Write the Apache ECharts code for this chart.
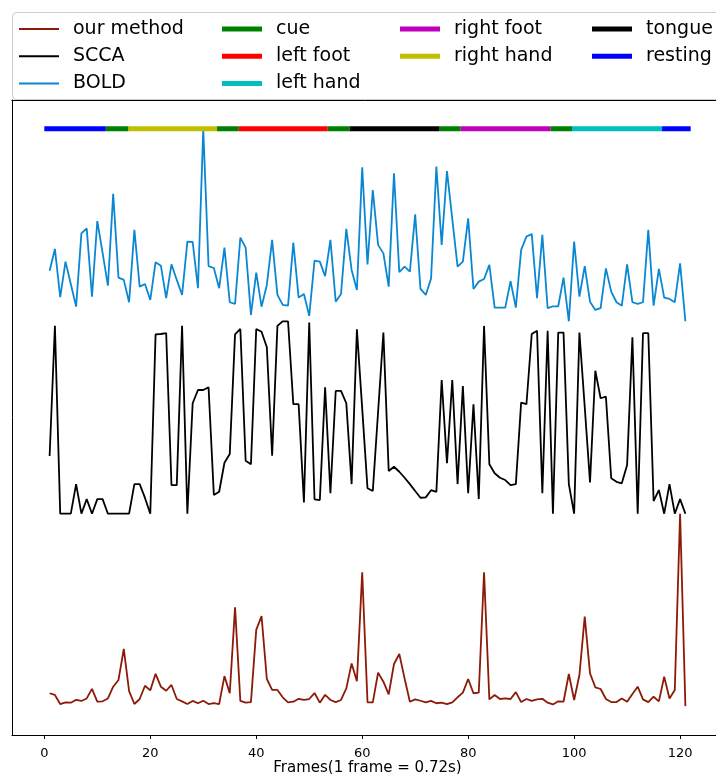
<!DOCTYPE html>
<html>
<head>
<meta charset="utf-8">
<script src="https://cdn.jsdelivr.net/npm/echarts@6/dist/echarts.min.js"></script>
<style>
  html, body { margin: 0; padding: 0; background: #fff; }
  #chart { width: 716px; height: 774px; }
</style>
</head>
<body>
<div id="chart"></div>
<script>
// traces, each normalised to 0..1 (frames 1..121)
const methodValues = [
  0.067, 0.058, 0.011, 0.02, 0.018, 0.033, 0.027, 0.04, 0.09, 0.023,
  0.025, 0.04, 0.101, 0.136, 0.297, 0.078, 0.011, 0.037, 0.106, 0.082,
  0.168, 0.101, 0.08, 0.11, 0.037, 0.025, 0.011, 0.027, 0.015, 0.028,
  0.011, 0.016, 0.011, 0.156, 0.067, 0.513, 0.027, 0.018, 0.021, 0.396,
  0.468, 0.141, 0.084, 0.084, 0.046, 0.02, 0.023, 0.038, 0.032, 0.037,
  0.068, 0.018, 0.059, 0.032, 0.021, 0.032, 0.092, 0.222, 0.13, 0.695,
  0.02, 0.02, 0.174, 0.127, 0.061, 0.219, 0.271, 0.144, 0.023, 0.035,
  0.028, 0.02, 0.027, 0.015, 0.018, 0.011, 0.02, 0.046, 0.07, 0.141,
  0.067, 0.07, 0.695, 0.035, 0.058, 0.037, 0.04, 0.037, 0.073, 0.021,
  0.037, 0.027, 0.035, 0.038, 0.018, 0.009, 0.025, 0.023, 0.167, 0.032,
  0.162, 0.465, 0.17, 0.098, 0.089, 0.037, 0.021, 0.021, 0.04, 0.023,
  0.063, 0.101, 0.035, 0.021, 0.049, 0.025, 0.153, 0.04, 0.084, 1.0,
  0.0
];
const sccaValues = [
  0.30, 0.977, 0, 0, 0, 0.154, 0, 0.076, 0, 0.076,
  0.076, 0, 0, 0, 0, 0, 0.154, 0.154, 0.082, 0,
  0.932, 0.934, 0.938, 0.149, 0.149, 0.977, 0, 0.574, 0.643, 0.643,
  0.657, 0.097, 0.114, 0.265, 0.31, 0.932, 0.96, 0.275, 0.257, 0.96,
  0.946, 0.865, 0.301, 0.976, 1.0, 1.0, 0.569, 0.569, 0.059, 0.993,
  0.075, 0.071, 0.657, 0.106, 0.638, 0.638, 0.574, 0.154, 0.958, 0.546,
  0.132, 0.118, 0.53, 0.941, 0.222, 0.244, 0.218, 0.187, 0.154, 0.118,
  0.083, 0.085, 0.122, 0.114, 0.695, 0.262, 0.695, 0.154, 0.664, 0.106,
  0.569, 0.076, 0.976, 0.257, 0.21, 0.187, 0.175, 0.149, 0.154, 0.577,
  0.569, 0.934, 0.951, 0.106, 0.951, 0, 0.941, 0.941, 0.154, 0,
  0.941, 0.556, 0.163, 0.743, 0.60, 0.608, 0.184, 0.166, 0.158, 0.253,
  0.917, 0, 0.938, 0.938, 0.066, 0.123, 0, 0.154, 0, 0.076,
  0
];
const boldValues = [
  0.263, 0.376, 0.125, 0.31, 0.194, 0.076, 0.457, 0.483, 0.128, 0.521,
  0.355, 0.185, 0.662, 0.227, 0.215, 0.099, 0.475, 0.18, 0.194, 0.111,
  0.307, 0.289, 0.12, 0.296, 0.215, 0.137, 0.414, 0.412, 0.172, 1.0,
  0.287, 0.277, 0.172, 0.383, 0.099, 0.09, 0.435, 0.383, 0.033, 0.253,
  0.076, 0.189, 0.423, 0.137, 0.085, 0.081, 0.409, 0.123, 0.142, 0.028,
  0.315, 0.31, 0.235, 0.423, 0.102, 0.142, 0.48, 0.267, 0.163, 0.80,
  0.296, 0.682, 0.397, 0.353, 0.18, 0.769, 0.255, 0.284, 0.258, 0.556,
  0.168, 0.137, 0.223, 0.804, 0.397, 0.781, 0.532, 0.284, 0.31, 0.535,
  0.168, 0.206, 0.22, 0.293, 0.071, 0.071, 0.071, 0.209, 0.071, 0.371,
  0.44, 0.454, 0.12, 0.449, 0.068, 0.078, 0.078, 0.227, 0, 0.414,
  0.128, 0.287, 0.102, 0.059, 0.068, 0.275, 0.154, 0.099, 0.081, 0.296,
  0.099, 0.09, 0.099, 0.475, 0.081, 0.272, 0.123, 0.116, 0.099, 0.301,
  0
];

// task timeline (frames), drawn above the traces
const taskSegments = {
  "cue": [[11.6, 15.9], [32.6, 36.7], [53.5, 57.6], [74.5, 78.6], [95.5, 99.6]],
  "left foot": [[36.7, 53.5]],
  "left hand": [[99.6, 116.6]],
  "right foot": [[78.6, 95.5]],
  "right hand": [[15.9, 32.6]],
  "tongue": [[57.6, 74.5]],
  "resting": [[0, 11.6], [116.6, 122]],
};
const xTicks = [0, 20, 40, 60, 80, 100, 120];

const traceColors = {
  "our method": "#8c1a08",
  "SCCA": "#000000",
  "BOLD": "#0a87d2",
};
const taskColors = {
  "cue": "#008000",
  "left foot": "#ff0000",
  "left hand": "#00bfbf",
  "right foot": "#bf00bf",
  "right hand": "#bfbf00",
  "tongue": "#000000",
  "resting": "#0000ff",
};

const font = "DejaVu Sans";
const chart = echarts.init(document.getElementById("chart"), null, { renderer: "canvas" });

const traceSeries = [
  ["our method", methodValues, 0],
  ["SCCA", sccaValues, 1],
  ["BOLD", boldValues, 2],
].map(([name, values, offset]) => ({
  name,
  type: "line",
  symbol: "none",
  data: values.map((v, i) => [i + 1, v + offset]),
  lineStyle: { width: 1.8, color: traceColors[name] },
  itemStyle: { color: traceColors[name] },
  animation: false,
  z: 2,
}));

const taskSeries = Object.keys(taskSegments).map((name) => {
  const data = [];
  taskSegments[name].forEach(([a, b], k) => {
    if (k > 0) data.push([null, null]);
    data.push([a, 3], [b, 3]);
  });
  return {
    name,
    type: "line",
    symbol: "none",
    connectNulls: false,
    data,
    lineStyle: { width: 5, color: taskColors[name], cap: "butt" },
    itemStyle: { color: taskColors[name] },
    animation: false,
    z: 3,
  };
});

// legend in 4 columns like the original (3, 3, 2, 2 entries)
const legendColumns = [
  { left: 19, data: ["our method", "SCCA", "BOLD"], thick: 2 },
  { left: 222, data: ["cue", "left foot", "left hand"], thick: 5 },
  { left: 400, data: ["right foot", "right hand"], thick: 5 },
  { left: 592, data: ["tongue", "resting"], thick: 5 },
];

const options = {
  backgroundColor: "#ffffff",
  animation: false,
  graphic: [
    {
      type: "rect",
      shape: { x: 12.5, y: 12.5, width: 740, height: 87, r: 4 },
      style: { fill: "#ffffff", stroke: "#cccccc", lineWidth: 1 },
      z: 0,
    },
  ],
  legend: legendColumns.map((col) => ({
    orient: "vertical",
    left: col.left,
    top: 19.5,
    padding: 0,
    icon: "rect",
    itemWidth: 40,
    itemHeight: col.thick,
    itemGap: 8.2,
    selectedMode: false,
    data: col.data,
    textStyle: {
      fontFamily: font,
      fontSize: 19,
      color: "#000",
      padding: [0, 0, 0, 9],
    },
  })),
  grid: {
    left: 12,
    top: 100,
    right: -7,
    bottom: 39,
    outerBoundsMode: "none",
    containLabel: false,
  },
  xAxis: [
    {
      type: "value",
      min: -6.1,
      max: 128.1,
      name: "Frames(1 frame = 0.72s)",
      nameLocation: "middle",
      nameGap: 26,
      nameMoveOverlap: false,
      nameTextStyle: { fontFamily: font, fontSize: 15, color: "#000" },
      axisLine: { show: true, onZero: false, lineStyle: { color: "#000", width: 1 } },
      axisTick: { show: true, customValues: xTicks, length: 4, lineStyle: { color: "#000" } },
      axisLabel: { customValues: xTicks, fontFamily: font, fontSize: 13, color: "#000", margin: 12 },
      splitLine: { show: false },
    },
    {
      type: "value",
      position: "top",
      min: -6.1,
      max: 128.1,
      axisLine: { show: true, onZero: false, lineStyle: { color: "#000", width: 1 } },
      axisTick: { show: false },
      axisLabel: { show: false },
      splitLine: { show: false },
    },
  ],
  yAxis: {
    type: "value",
    min: -0.15,
    max: 3.15,
    axisLine: { show: true, onZero: false, lineStyle: { color: "#000", width: 1 } },
    axisTick: { show: false },
    axisLabel: { show: false },
    splitLine: { show: false },
  },
  series: [...traceSeries, ...taskSeries],
};

chart.setOption(options);
</script>
</body>
</html>
